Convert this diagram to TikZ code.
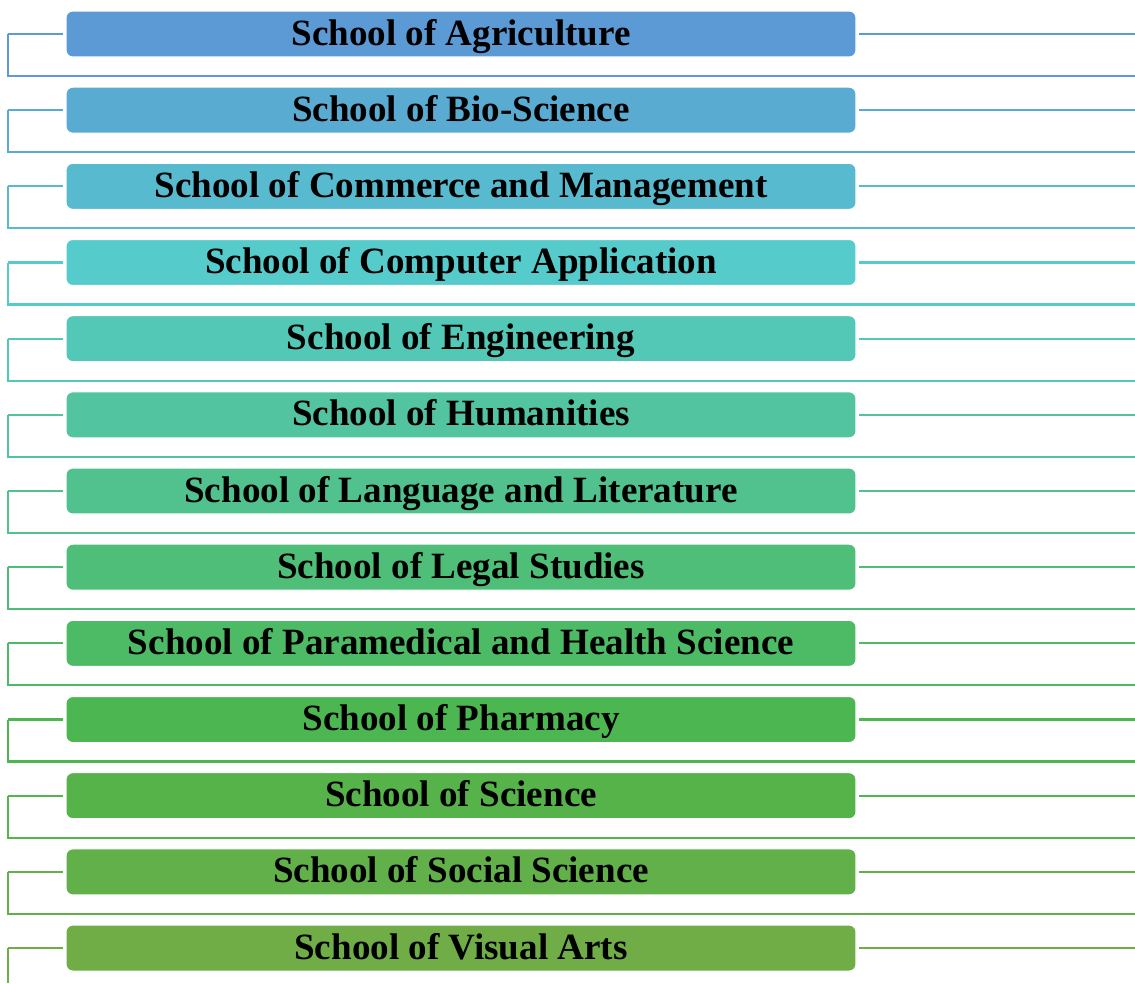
\documentclass[tikz,border=0pt]{standalone}
\usepackage{fontspec}
\setmainfont{Liberation Serif}
\usepackage{tikz}
\usetikzlibrary{calc,positioning}

\tikzset{
  schoolbox/.style={draw=white, line width=0.8pt, rounded corners=5pt,
    minimum width=592.5pt, minimum height=34.5pt, inner sep=0pt,
    text height=20pt, text depth=3.5pt,
    font=\fontsize{27.8}{30}\selectfont\bfseries},
  link/.style={line width=1.6pt}
}

\begin{document}
\begin{tikzpicture}[x=0.75pt,y=-0.75pt]
\useasboundingbox (0,0) rectangle (1135,983);
\coordinate (Bot) at (8,983);

        \foreach \i/\name in
        {1/School of Agriculture,
            2/School of Bio-Science,
            3/School of Commerce and Management,
            4/School of Computer Application,
            5/School of Engineering,
            6/School of Humanities,
            7/School of Language and Literature,
            8/School of Legal Studies,
            9/School of Paramedical and Health Science,
            10/School of Pharmacy,
            11/School of Science,
            12/School of Social Science,
            13/School of Visual Arts
        }
        {
            % colour runs from blue to green
            \pgfmathtruncatemacro\hu{209-(\i-1)*9.45}
            \pgfmathsetmacro\sa{0.573+(\i-1)*0.0014}
            \pgfmathsetmacro\br{0.835-(\i-1)*0.0131}
            \pgfmathsetmacro\cy{34+76.17*(\i-1)}
            \definecolor{tmp}{Hsb}{\hu,\sa,\br}
            \colorlet{cur}[rgb]{tmp}
            \node[schoolbox, fill=cur] (s\i) at (461,\cy) {\name};
            \coordinate (l\i) at (8,\cy);
            \coordinate (r\i) at (1135,\cy);
            \coordinate (dl\i) at (8,\cy+42);
            \coordinate (dr\i) at (1135,\cy+42);
            \draw[link, cur, shorten >=2pt] (l\i) -- (s\i.west);
            \draw[link, cur, shorten <=2pt] (s\i.east) -- (r\i);
            \ifnum\i<13
              \draw[link, cur] (l\i) -- (dl\i) -- (dr\i);
            \else
              \draw[link, cur] (l\i) -- (Bot);
            \fi
        };
\end{tikzpicture}
\end{document}
